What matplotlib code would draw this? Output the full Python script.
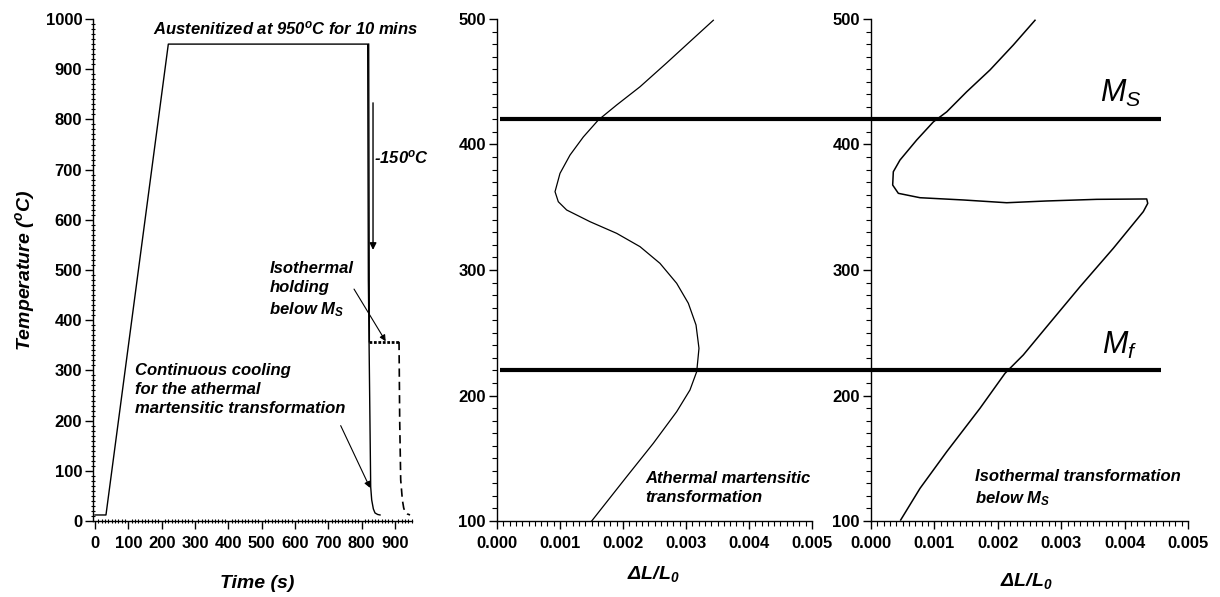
import numpy as np
import matplotlib
matplotlib.use("Agg")
import matplotlib.pyplot as plt
from matplotlib.ticker import MultipleLocator, FormatStrFormatter

plt.rcParams['font.family'] = ['Liberation Sans', 'DejaVu Sans']
plt.rcParams['font.weight'] = 'bold'
plt.rcParams['mathtext.fontset'] = 'custom'
plt.rcParams['mathtext.rm'] = 'Liberation Sans:bold:italic'
plt.rcParams['mathtext.it'] = 'Liberation Sans:bold:italic'
plt.rcParams['mathtext.sf'] = 'Liberation Sans:style=italic:weight=normal'

# --- heat treatment schedule (left panel) ---
# continuous cooling path
cc_time = [0, 33, 220, 818, 820, 827, 830, 835, 840, 848, 855]
cc_temp = [12, 12, 950, 950, 480, 68, 42, 24, 16, 13, 12]
# quench to the holding temperature
q_time = [821, 823]
q_temp = [950, 357]
# isothermal hold below Ms
hold_time = [823, 912]
hold_temp = [357, 357]
# final cooling after holding
fc_time = [912, 914, 917, 922, 926, 930, 937, 945]
fc_temp = [357, 200, 82, 42, 26, 18, 14, 12]

# --- dilatometry (middle: athermal) ---
ath_dl = [0.003434, 0.003063, 0.002693, 0.002270, 0.001900, 0.001608, 0.001370,
          0.001159, 0.001000, 0.000921, 0.000973, 0.001106, 0.001476, 0.001900,
          0.002270, 0.002587, 0.002852, 0.003037, 0.003159, 0.003206, 0.003170,
          0.003063, 0.002852, 0.002481, 0.002058, 0.001503]
ath_T = [499, 482, 465, 446, 431.5, 419.5, 406, 391.6, 377, 362.4, 354.4, 347.8,
         338.5, 329.2, 318.6, 305.3, 289.4, 273.5, 256.2, 237.6, 219, 204.4,
         187.1, 161.9, 135.3, 100]

# --- dilatometry (right: isothermal) ---
iso_dl = [0.002587, 0.002245, 0.001877, 0.001509, 0.001194, 0.000983, 0.000721,
          0.000457, 0.000352, 0.000342, 0.000431, 0.000773, 0.001456, 0.002140,
          0.002771, 0.003560, 0.004349, 0.004365, 0.004295, 0.003822, 0.003297,
          0.002771, 0.002402, 0.002114, 0.001719, 0.001194, 0.000773, 0.000468]
iso_T = [499, 479.3, 459.4, 442, 426, 418, 403.6, 387.6, 378.3, 367.7, 361.1,
         357.6, 355.8, 353.6, 355, 356.3, 356.6, 353.1, 346.5, 317.3, 286.7,
         254.8, 232.3, 217.7, 189.8, 155.2, 126, 100.8]

ms_temp = 420
mf_temp = 220

W, H = 1220, 597
fig = plt.figure(figsize=(W / 100, H / 100), dpi=100)


def px_axes(l, r, t, b):
    return fig.add_axes([l / W, (H - b) / H, (r - l) / W, (b - t) / H])


def style(ax, minor_dir='out'):
    for s in ['top', 'right']:
        ax.spines[s].set_visible(False)
    for s in ['left', 'bottom']:
        ax.spines[s].set_linewidth(1.0)
    ax.tick_params(which='major', direction='out', length=6, width=1.0,
                   labelsize=12)
    ax.tick_params(which='minor', direction=minor_dir, length=3.5, width=0.8)
    ax.tick_params(axis='x', which='major', pad=5)
    ax.tick_params(axis='y', which='major', pad=2)


lbl = dict(fontsize=12, fontweight='bold', fontstyle='italic')
axlbl = dict(fontsize=14, fontweight='bold', fontstyle='italic')

# ---------------- left panel ----------------
ax1 = px_axes(93.3, 411.7, 19, 521)
ax1.plot(cc_time, cc_temp, color='black', lw=1.0)
ax1.plot(q_time, q_temp, color='black', lw=1.0)
ax1.plot(hold_time, hold_temp, color='black', lw=2.0, ls=(0, (1, 0.6)))
ax1.plot(fc_time, fc_temp, color='black', lw=1.2, ls=(0, (5, 3)))
ax1.set_xlim(-5, 950)
ax1.set_ylim(0, 1000)
ax1.xaxis.set_major_locator(MultipleLocator(100))
ax1.xaxis.set_minor_locator(MultipleLocator(10))
ax1.yaxis.set_major_locator(MultipleLocator(100))
ax1.yaxis.set_minor_locator(MultipleLocator(10))
style(ax1, minor_dir='inout')
ax1.text(-0.215, 0.5, 'Temperature ($^o$C)', transform=ax1.transAxes,
         rotation=90, ha='center', va='center', **axlbl)
ax1.text(0.514, -0.124, 'Time (s)', transform=ax1.transAxes, ha='center',
         va='center', **axlbl)

ax1.text(573, 982, 'Austenitized at 950$^o$C for 10 mins', ha='center',
         va='center', **lbl)
ax1.annotate('', xy=(834, 540), xytext=(834, 833),
             arrowprops=dict(arrowstyle='-|>', color='black', lw=1.0,
                             mutation_scale=10, shrinkA=0, shrinkB=0))
ax1.text(838, 725, '-150$^o$C', ha='left', va='center', **lbl)
ax1.text(523, 460, 'Isothermal\nholding\nbelow M$_S$', ha='left',
         va='center', linespacing=1.35, **lbl)
ax1.annotate('', xy=(872, 358), xytext=(777, 462),
             arrowprops=dict(arrowstyle='-|>', color='black', lw=0.8,
                             mutation_scale=9, shrinkA=0, shrinkB=0))
ax1.text(120, 262, 'Continuous cooling\nfor the athermal\nmartensitic transformation',
         ha='left', va='center', linespacing=1.35, **lbl)
ax1.annotate('', xy=(825, 66), xytext=(737, 190),
             arrowprops=dict(arrowstyle='-|>', color='black', lw=0.8,
                             mutation_scale=9, shrinkA=0, shrinkB=0))

# ---------------- middle panel ----------------
ax2 = px_axes(497, 812, 19, 521)
ax2.plot(ath_dl, ath_T, color='black', lw=0.9)
ax2.set_xlim(0, 0.005)
ax2.set_ylim(100, 500)
ax2.xaxis.set_major_locator(MultipleLocator(0.001))
ax2.xaxis.set_minor_locator(MultipleLocator(0.0001))
ax2.yaxis.set_major_locator(MultipleLocator(100))
ax2.yaxis.set_minor_locator(MultipleLocator(10))
ax2.xaxis.set_major_formatter(FormatStrFormatter('%.3f'))
style(ax2)
ax2.text(0.495, -0.105, '\u0394L/L$_0$', transform=ax2.transAxes, ha='center',
         va='center', **axlbl)
ax2.text(0.00235, 126, 'Athermal martensitic\ntransformation', ha='left',
         va='center', linespacing=1.35, **lbl)

# ---------------- right panel ----------------
ax3 = px_axes(871, 1188, 19, 521)
ax3.plot(iso_dl, iso_T, color='black', lw=1.1)
ax3.set_xlim(0, 0.005)
ax3.set_ylim(100, 500)
ax3.xaxis.set_major_locator(MultipleLocator(0.001))
ax3.xaxis.set_minor_locator(MultipleLocator(0.0001))
ax3.yaxis.set_major_locator(MultipleLocator(100))
ax3.yaxis.set_minor_locator(MultipleLocator(10))
ax3.xaxis.set_major_formatter(FormatStrFormatter('%.3f'))
style(ax3)
ax3.text(0.49, -0.12, '\u0394L/L$_0$', transform=ax3.transAxes, ha='center',
         va='center', **axlbl)
ax3.text(0.00164, 126, 'Isothermal transformation\nbelow M$_S$', ha='left',
         va='center', linespacing=1.35, **lbl)
ax3.text(0.00361, 434, r'$\mathsf{M_S}$', ha='left', va='baseline', fontsize=22)
ax3.text(0.00364, 233, r'$\mathsf{M_f}$', ha='left', va='baseline', fontsize=22)

# Ms / Mf lines spanning both dilatometry panels
ax2.set_zorder(ax3.get_zorder() + 1)
ax2.patch.set_visible(False)
x_end = ax2.transData.inverted().transform(
    ax3.transData.transform((0.00457, 0)))[0]
for T in (ms_temp, mf_temp):
    ax2.plot([0.00005, x_end], [T, T], color='black', lw=3.0, clip_on=False,
             solid_capstyle='butt', zorder=5)

fig.savefig('out.png', dpi=100)
